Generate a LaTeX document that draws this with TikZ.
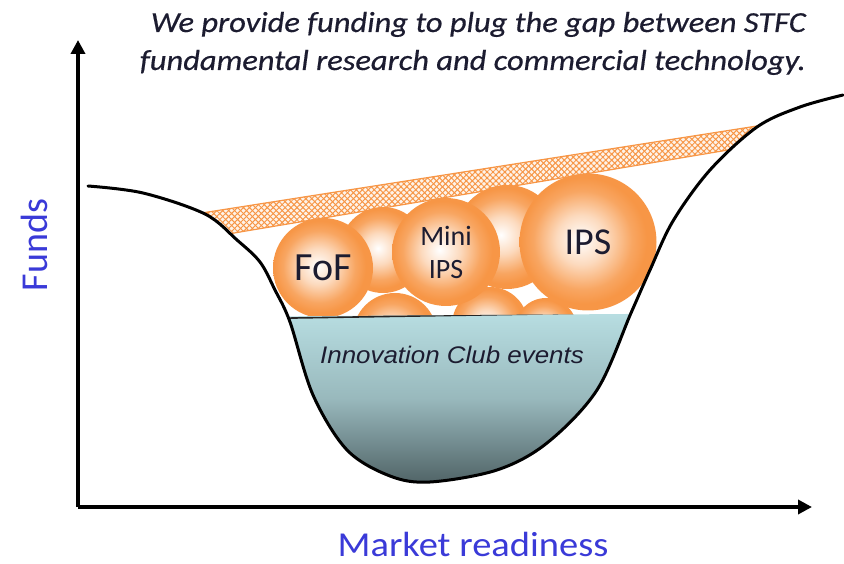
\documentclass[tikz,border=0pt]{standalone}
\usepackage{fontspec}
\setmainfont{Carlito}
\newfontfamily\arialfont{Liberation Sans}
\usetikzlibrary{arrows.meta,patterns.meta}

\definecolor{bubblecol}{HTML}{F79646}
\definecolor{poolTop}{HTML}{B8DEE2}
\definecolor{poolBot}{HTML}{4E6164}
\definecolor{labelblue}{HTML}{3A3AD8}
\definecolor{inktext}{HTML}{1C1C30}

\pgfdeclareradialshading{ball}{\pgfpoint{-3bp}{1bp}}{color(0bp)=(white); color(9bp)=(bubblecol!35!white); color(18bp)=(bubblecol!85!white); color(23bp)=(bubblecol); color(50bp)=(bubblecol)}

\newcommand{\valleyPts}{(88,186) (143,193) (205,214) (237,240) (260,262) (275,290) (290,322) (313,395) (347,450) (390,476) (430,482) (497,470) (547,443) (597,390) (631,313) (650,270) (673,221) (710,170) (757,127) (800,107) (843,95)}
\newcommand{\titlestyle}{\itshape\fontsize{29}{38}\selectfont\addfontfeatures{FakeBold=0.5,FakeStretch=1.12}}

\begin{document}
\begin{tikzpicture}[x=1pt,y=-1pt,
  sphere/.style={circle,inner sep=0pt,shade,shading=ball,text=inktext},
  axis/.style={line width=3.5pt,-{Triangle[length=14pt,width=14pt]}},
  valley/.style={line width=3pt,line cap=round},
  axislabel/.style={text=labelblue,inner sep=0pt,font=\fontsize{38}{38}\selectfont}]
  \useasboundingbox (0,0) rectangle (844,564);

  % funding band and bubbles, kept inside the valley
  \begin{scope}
    \clip plot[smooth,tension=0.55] coordinates {\valleyPts} -- (843,-20) -- (88,-20) -- cycle;
    \fill[bubblecol!12] (180,216.4) -- (780,122.4) -- (780,141.3) -- (180,242.1) -- cycle;
    \fill[preaction={pattern={Lines[angle=45,distance=4.2pt,line width=1pt]},pattern color=bubblecol},
      pattern={Lines[angle=-45,distance=4.2pt,line width=1pt]}, pattern color=bubblecol]
      (180,216.4) -- (780,122.4) -- (780,141.3) -- (180,242.1) -- cycle;
    \draw[bubblecol, line width=1.2pt] (180,216.4) -- (780,122.4) (780,141.3) -- (180,242.1);
  \end{scope}

  \node[sphere, minimum size=84pt] (lowA) at (395,335) {};
  \node[sphere, minimum size=76pt] (lowB) at (490,325) {};
  \node[sphere, minimum size=62pt] (lowC) at (546,329) {};
  \node[sphere, minimum size=86pt] (backA) at (383,250) {};
  \node[sphere, minimum size=104pt] (backB) at (507,237) {};
  \node[sphere, minimum size=100pt, font=\fontsize{40}{40}\selectfont] (fof) at (323,268) {FoF};
  \node[sphere, minimum size=108pt, align=center, font=\fontsize{28}{33}\selectfont] (mini) at (446,252) {Mini\\IPS};
  \node[sphere, minimum size=137pt, font=\fontsize{38}{38}\selectfont] (ips) at (588,242) {IPS};

  % the pool at the bottom of the valley
  \begin{scope}
    \clip plot[smooth,tension=0.55] coordinates {\valleyPts} -- (843,-20) -- (88,-20) -- cycle;
    \clip (0,318.3) -- (844,312.5) -- (844,564) -- (0,564) -- cycle;
    \shade[top color=poolTop, bottom color=poolBot, middle color=poolTop!70!poolBot] (270,312) rectangle (650,486);
    \draw[line width=1.6pt, black!85] (270,318.4) -- (650,312.2);
  \end{scope}

  \draw[valley] plot[smooth,tension=0.55] coordinates {\valleyPts};

  \coordinate (origin) at (78,507);
  \coordinate (ytip) at (78,40);
  \coordinate (xtip) at (812,507);
  \draw[axis] (origin) -- (ytip);
  \draw[axis] (origin) -- (xtip);

  \node[text=inktext, font=\arialfont\itshape\fontsize{24}{24}\selectfont\addfontfeatures{FakeStretch=1.08}, anchor=base] (club) at (452,363) {Innovation Club events};
  \node[axislabel, rotate=90, font=\fontsize{38}{38}\selectfont] (funds) at (34,245) {Funds};
  \node[axislabel, anchor=base, font=\fontsize{35}{35}\selectfont\addfontfeatures{FakeStretch=1.1}] (market) at (473,556) {Market readiness};
  \node[text=inktext, align=right, anchor=base east, inner sep=0pt, font=\titlestyle] (title) at (806,70)
    {We provide funding to plug the gap between STFC\\fundamental research and commercial technology.};
\end{tikzpicture}
\end{document}
